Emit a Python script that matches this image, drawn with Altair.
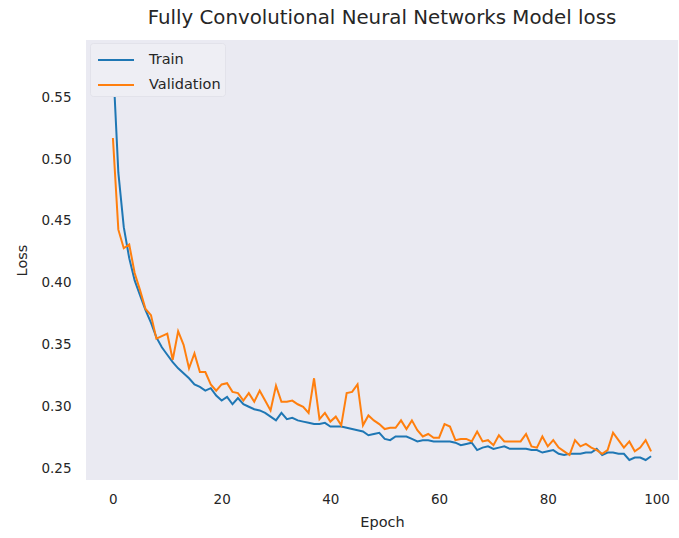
import altair as alt
import pandas as pd

# Loss per epoch for the fully convolutional network
epochs = list(range(100))

train_loss = [
    0.580, 0.489, 0.445, 0.420, 0.402, 0.390, 0.378, 0.368, 0.356, 0.348,
    0.342, 0.336, 0.331, 0.327, 0.323, 0.318, 0.316, 0.313, 0.315, 0.309,
    0.305, 0.308, 0.302, 0.307, 0.302, 0.300, 0.298, 0.297, 0.295, 0.292,
    0.289, 0.295, 0.290, 0.291, 0.289, 0.288, 0.287, 0.286, 0.286, 0.287,
    0.284, 0.284, 0.284, 0.283, 0.282, 0.281, 0.280, 0.277, 0.278, 0.279,
    0.274, 0.273, 0.276, 0.276, 0.276, 0.274, 0.272, 0.273, 0.273, 0.272,
    0.272, 0.272, 0.272, 0.271, 0.269, 0.270, 0.271, 0.265, 0.267, 0.268,
    0.266, 0.267, 0.268, 0.266, 0.266, 0.266, 0.266, 0.265, 0.265, 0.263,
    0.264, 0.265, 0.262, 0.261, 0.262, 0.262, 0.262, 0.263, 0.263, 0.266,
    0.261, 0.263, 0.263, 0.262, 0.262, 0.257, 0.259, 0.259, 0.257, 0.260,
]

val_loss = [
    0.517, 0.443, 0.428, 0.431, 0.408, 0.394, 0.379, 0.374, 0.355, 0.357,
    0.359, 0.338, 0.361, 0.350, 0.331, 0.343, 0.328, 0.328, 0.318, 0.313,
    0.318, 0.319, 0.312, 0.311, 0.305, 0.311, 0.304, 0.313, 0.305, 0.297,
    0.317, 0.304, 0.304, 0.305, 0.302, 0.300, 0.295, 0.323, 0.290, 0.295,
    0.288, 0.292, 0.285, 0.311, 0.312, 0.318, 0.285, 0.293, 0.289, 0.286,
    0.282, 0.283, 0.283, 0.289, 0.282, 0.289, 0.281, 0.276, 0.278, 0.275,
    0.275, 0.286, 0.284, 0.273, 0.274, 0.274, 0.272, 0.280, 0.272, 0.273,
    0.269, 0.277, 0.272, 0.272, 0.272, 0.272, 0.278, 0.268, 0.267, 0.276,
    0.268, 0.273, 0.267, 0.264, 0.261, 0.273, 0.268, 0.270, 0.267, 0.265,
    0.262, 0.265, 0.279, 0.273, 0.267, 0.272, 0.264, 0.267, 0.273, 0.264,
]

series_names = ["Train", "Validation"]
series_colors = ["#1f77b4", "#ff7f0e"]
x_ticks = [0, 20, 40, 60, 80, 100]
y_ticks = [0.25, 0.30, 0.35, 0.40, 0.45, 0.50, 0.55]

df = pd.concat(
    [
        pd.DataFrame({"Epoch": epochs, "Loss": train_loss, "series": "Train"}),
        pd.DataFrame({"Epoch": epochs, "Loss": val_loss, "series": "Validation"}),
    ],
    ignore_index=True,
)

# matplotlib-style 5% margins around the data
lo = min(train_loss + val_loss)
hi = max(train_loss + val_loss)
ypad = 0.05 * (hi - lo)
xpad = 0.05 * (epochs[-1] - epochs[0])

FONT = "DejaVu Sans"
INK = "#262626"

chart = (
    alt.Chart(df)
    .mark_line(strokeWidth=2, clip=True)
    .encode(
        x=alt.X(
            "Epoch:Q",
            scale=alt.Scale(domain=[epochs[0] - xpad, epochs[-1] + xpad], nice=False, zero=False),
            axis=alt.Axis(values=x_ticks, format="d", title="Epoch"),
        ),
        y=alt.Y(
            "Loss:Q",
            scale=alt.Scale(domain=[lo - ypad, hi + ypad], nice=False, zero=False),
            axis=alt.Axis(values=y_ticks, format=".2f", title="Loss"),
        ),
        color=alt.Color(
            "series:N",
            scale=alt.Scale(domain=series_names, range=series_colors),
            legend=alt.Legend(
                title=None,
                orient="none",
                legendX=4,
                legendY=3,
                # long horizontal stroke, shifted right of the symbol's layout box
                symbolType="M-0.75,0H2.25",
                symbolSize=576,
                symbolStrokeWidth=2,
                labelFont=FONT,
                labelFontSize=14.5,
                labelColor=INK,
                fillColor="#EEEEF4",
                strokeColor="#E2E2EA",
                cornerRadius=3,
                padding=4,
                rowPadding=5,
                labelOffset=29,
            ),
        ),
        order=alt.Order("Epoch:Q"),
    )
    .properties(
        width=592,
        height=440,
        background="white",
        title=alt.Title(
            "Fully Convolutional Neural Networks Model loss",
            font=FONT,
            fontSize=19.8,
            fontWeight="normal",
            color=INK,
            anchor="middle",
            frame="group",
            offset=12,
        ),
        autosize=alt.AutoSizeParams(type="none"),
        padding={"left": 86, "top": 40, "right": 1, "bottom": 58},
    )
    .configure_view(fill="#EAEAF2", stroke=None)
    .configure_axis(
        grid=False,
        domain=False,
        ticks=False,
        labelFont=FONT,
        labelFontSize=13.5,
        labelColor=INK,
        labelPadding=15,
        titleFont=FONT,
        titleFontSize=14.5,
        titleFontWeight="normal",
        titleColor=INK,
    )
    .configure_axisX(labelPadding=12, titlePadding=10)
    .configure_axisY(titlePadding=11)
)

chart.save("out.html", embed_options={"renderer": "svg", "actions": False})
